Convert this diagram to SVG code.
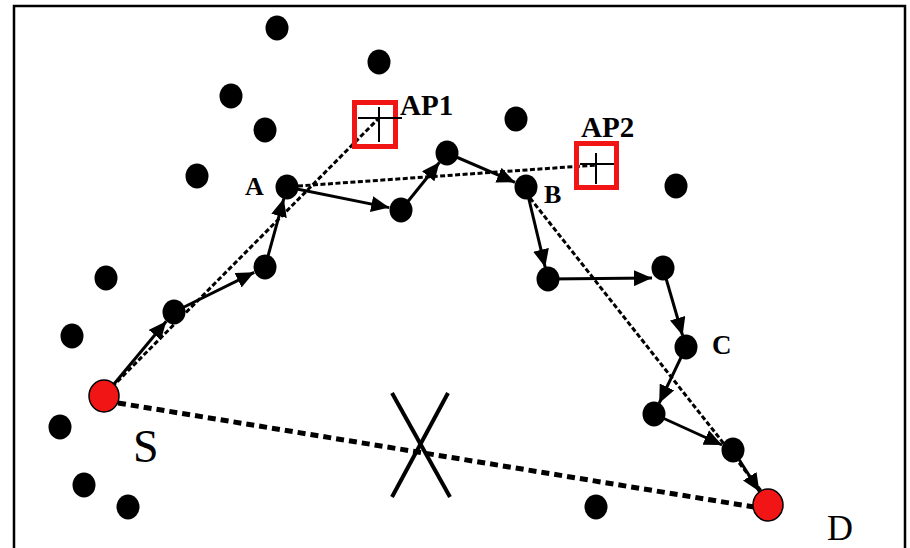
<svg xmlns="http://www.w3.org/2000/svg" width="910" height="548" viewBox="0 0 910 548">
  <style>
    .node { fill: #000; }
    .end { fill: #f21515; stroke: #000; stroke-width: 1.5; }
    .ap rect { fill: none; stroke: #f21515; stroke-width: 5; }
    .ap line { stroke: #000; stroke-width: 2; }
    .hop { stroke: #000; stroke-width: 3; fill: none; marker-end: url(#head); }
    .route { stroke: #000; stroke-width: 3; stroke-dasharray: 5 2.5; fill: none; }
    .fail { stroke: #000; stroke-width: 5; stroke-dasharray: 8 5; fill: none; }
    .lbl { font-family: "Liberation Serif", "Times New Roman", serif; fill: #000; }
    .b { font-weight: bold; }
  </style>
  <defs>
    <marker id="head" markerUnits="userSpaceOnUse" markerWidth="20" markerHeight="16" refX="18" refY="8" orient="auto">
      <path d="M0,0 L18,8 L0,16 Z" fill="#000"/>
    </marker>
  </defs>

  <rect x="14" y="6" width="891" height="560" fill="#fff" stroke="#000" stroke-width="2.5"/>

  <!-- connectors -->
  <g id="connectors">
    <line class="route" x1="112" y1="387" x2="379" y2="118"/>
    <line class="route" x1="298" y1="186" x2="597" y2="165"/>
    <line class="route" x1="530" y1="198" x2="762" y2="492"/>
    <line class="fail" x1="118" y1="403" x2="754" y2="507"/>
    <line class="hop" x1="113.6" y1="384.5" x2="166.3" y2="321.2"/>
    <line class="hop" x1="174" y1="312" x2="254.2" y2="272.3"/>
    <line class="hop" x1="265" y1="267" x2="283.8" y2="198.6"/>
    <line class="hop" x1="287" y1="187" x2="389.2" y2="207.6"/>
    <line class="hop" x1="401" y1="210" x2="439.5" y2="162.3"/>
    <line class="hop" x1="447" y1="153" x2="515" y2="182.3"/>
    <line class="hop" x1="526" y1="187" x2="545.2" y2="267.3"/>
    <line class="hop" x1="548" y1="279" x2="652" y2="278"/>
    <line class="hop" x1="663" y1="268" x2="682.6" y2="335.5"/>
    <line class="hop" x1="686" y1="347" x2="659.2" y2="403.2"/>
    <line class="hop" x1="654" y1="414" x2="722.1" y2="445"/>
    <line class="hop" x1="733" y1="450" x2="759.4" y2="491.5"/>
    <!-- broken direct link -->
    <line x1="392" y1="393" x2="450" y2="497" stroke="#000" stroke-width="4"/>
    <line x1="448" y1="393" x2="392" y2="497" stroke="#000" stroke-width="4"/>
  </g>

  <!-- access points -->
  <g id="AP1" class="ap">
    <rect x="354.5" y="102.5" width="41" height="44"/>
    <line x1="379" y1="107" x2="379" y2="142"/>
    <line x1="358" y1="118" x2="402" y2="118"/>
    <text class="lbl b" x="400" y="115" font-size="29">AP1</text>
  </g>
  <g id="AP2" class="ap">
    <rect x="576.5" y="143.5" width="40" height="44"/>
    <line x1="596" y1="153" x2="596" y2="184"/>
    <line x1="580" y1="164" x2="614" y2="164"/>
    <text class="lbl b" x="581" y="137" font-size="29">AP2</text>
  </g>

  <!-- mobile nodes -->
  <g id="n1"><ellipse class="node" cx="277" cy="28" rx="11.5" ry="12.5"/></g>
  <g id="n2"><ellipse class="node" cx="379" cy="62" rx="11.5" ry="12.5"/></g>
  <g id="n3"><ellipse class="node" cx="231" cy="96" rx="11.5" ry="12.5"/></g>
  <g id="n4"><ellipse class="node" cx="265" cy="130" rx="11.5" ry="12.5"/></g>
  <g id="n5"><ellipse class="node" cx="516" cy="119" rx="11.5" ry="12.5"/></g>
  <g id="n6"><ellipse class="node" cx="197" cy="176" rx="11.5" ry="12.5"/></g>
  <g id="A">
    <ellipse class="node" cx="287" cy="187" rx="11.5" ry="12.5"/>
    <text class="lbl b" x="245" y="195" font-size="26">A</text>
  </g>
  <g id="n8"><ellipse class="node" cx="401" cy="210" rx="11.5" ry="12.5"/></g>
  <g id="n9"><ellipse class="node" cx="447" cy="153" rx="11.5" ry="12.5"/></g>
  <g id="B">
    <ellipse class="node" cx="526" cy="187" rx="11.5" ry="12.5"/>
    <text class="lbl b" x="544" y="203" font-size="26">B</text>
  </g>
  <g id="n11"><ellipse class="node" cx="676" cy="186" rx="11.5" ry="12.5"/></g>
  <g id="n12"><ellipse class="node" cx="106" cy="278" rx="11.5" ry="12.5"/></g>
  <g id="n13"><ellipse class="node" cx="265" cy="267" rx="11.5" ry="12.5"/></g>
  <g id="n14"><ellipse class="node" cx="174" cy="312" rx="11.5" ry="12.5"/></g>
  <g id="n15"><ellipse class="node" cx="72" cy="336" rx="11.5" ry="12.5"/></g>
  <g id="n16"><ellipse class="node" cx="548" cy="279" rx="11.5" ry="12.5"/></g>
  <g id="n17"><ellipse class="node" cx="663" cy="268" rx="11.5" ry="12.5"/></g>
  <g id="C">
    <ellipse class="node" cx="686" cy="347" rx="11.5" ry="12.5"/>
    <text class="lbl b" x="712" y="354" font-size="27">C</text>
  </g>
  <g id="n19"><ellipse class="node" cx="654" cy="414" rx="11.5" ry="12.5"/></g>
  <g id="n20"><ellipse class="node" cx="733" cy="450" rx="11.5" ry="12.5"/></g>
  <g id="n21"><ellipse class="node" cx="60" cy="427" rx="11.5" ry="12.5"/></g>
  <g id="n22"><ellipse class="node" cx="84" cy="485" rx="11.5" ry="12.5"/></g>
  <g id="n23"><ellipse class="node" cx="128" cy="507" rx="11.5" ry="12.5"/></g>
  <g id="n24"><ellipse class="node" cx="596" cy="507" rx="11.5" ry="12.5"/></g>

  <!-- source and destination -->
  <g id="S">
    <ellipse class="end" cx="104" cy="396" rx="15" ry="16"/>
    <text class="lbl" x="133" y="462" font-size="46">S</text>
  </g>
  <g id="D">
    <ellipse class="end" cx="768" cy="505" rx="15" ry="16"/>
    <text class="lbl" x="827" y="540" font-size="36">D</text>
  </g>
</svg>
